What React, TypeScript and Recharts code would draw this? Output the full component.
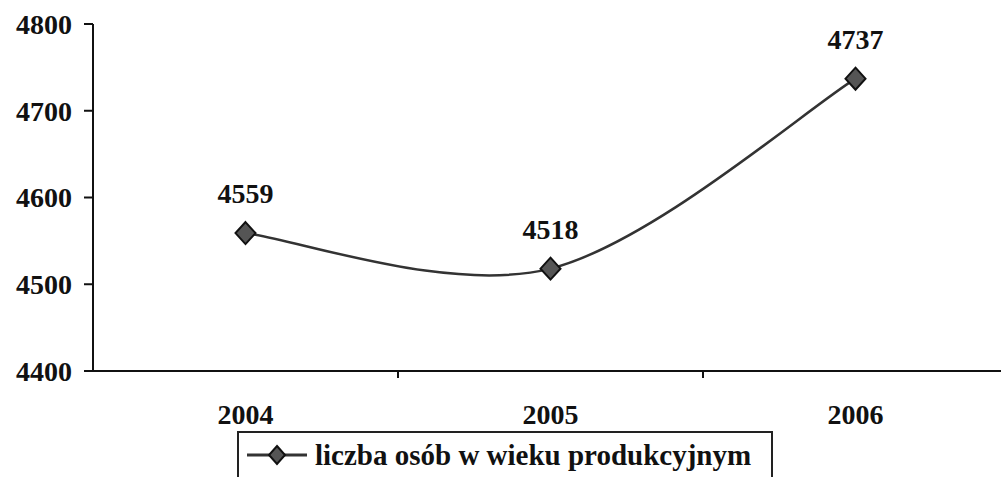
import { LineChart, Line, XAxis, YAxis, Legend, LabelList } from "recharts";

const years = ["2004", "2005", "2006"];
const persons = [4559, 4518, 4737];
const yTicks = [4400, 4500, 4600, 4700, 4800];
const seriesName = "liczba osób w wieku produkcyjnym";

const FONT = '"Liberation Serif", "Times New Roman", serif';

// categories sit in the middle of their band, like Excel's "between tick marks"
const data = years.map((year, i) => ({ x: i + 0.5, year, value: persons[i] }));
const xTicks = [0, 0.5, 1, 1.5, 2, 2.5, 3];

// Excel-like smoothed line (Catmull-Rom as cubic beziers)
function excelSmooth(context: any) {
  let pts: [number, number][] = [];
  return {
    areaStart() {},
    areaEnd() {},
    lineStart() {
      pts = [];
    },
    point(x: number, y: number) {
      pts.push([+x, +y]);
    },
    lineEnd() {
      if (!pts.length) return;
      context.moveTo(pts[0][0], pts[0][1]);
      for (let i = 0; i < pts.length - 1; i++) {
        const p0 = pts[Math.max(i - 1, 0)];
        const p1 = pts[i];
        const p2 = pts[i + 1];
        const p3 = pts[Math.min(i + 2, pts.length - 1)];
        context.bezierCurveTo(
          p1[0] + (p2[0] - p0[0]) / 6,
          p1[1] + (p2[1] - p0[1]) / 6,
          p2[0] - (p3[0] - p1[0]) / 6,
          p2[1] - (p3[1] - p1[1]) / 6,
          p2[0],
          p2[1]
        );
      }
    },
  };
}

function Diamond({ cx, cy, size = 10 }: { cx?: number; cy?: number; size?: number }) {
  if (cx == null || cy == null) return null;
  return (
    <polygon
      points={`${cx},${cy - size - 1} ${cx + size},${cy} ${cx},${cy + size + 1} ${cx - size},${cy}`}
      fill="#555"
      stroke="#111"
      strokeWidth={2}
    />
  );
}

function XTick(props: any) {
  const { x, y, payload } = props;
  const v = payload.value as number;
  if (Number.isInteger(v)) {
    if (v === 0 || v === 3) return null;
    return <line x1={x} y1={y} x2={x} y2={y + 7} stroke="#111" strokeWidth={2} />;
  }
  const label = years[Math.floor(v)];
  return (
    <text x={x} y={y + 53} textAnchor="middle" fontFamily={FONT} fontWeight="bold" fontSize={28} fill="#111">
      {label}
    </text>
  );
}

function LegendBox() {
  return (
    <div
      style={{
        width: 536,
        height: 60,
        border: "2px solid #222",
        borderBottom: "none",
        boxSizing: "border-box",
        display: "flex",
        alignItems: "center",
        paddingLeft: 6,
        paddingBottom: 14,
        fontFamily: FONT,
        fontWeight: "bold",
        fontSize: 29,
        color: "#111",
        background: "#fff",
      }}
    >
      <svg width={64} height={26} style={{ marginRight: 6 }}>
        <line x1={2} y1={13} x2={62} y2={13} stroke="#333" strokeWidth={3} />
        <Diamond cx={32} cy={13} size={8} />
      </svg>
      <span>{seriesName}</span>
    </div>
  );
}

export default function App() {
  return (
    <div
      style={{
        position: "absolute",
        left: 0,
        top: 0,
        width: 1001,
        height: 477,
        overflow: "hidden",
        background: "#fff",
      }}
    >
      <LineChart width={1008} height={477} data={data} margin={{ top: 24, right: 0, left: 0, bottom: 46 }}>
        <XAxis
          dataKey="x"
          type="number"
          domain={[0, 3]}
          ticks={xTicks}
          interval={0}
          height={60}
          tickSize={0}
          tickMargin={0}
          tickLine={false}
          tick={<XTick />}
          axisLine={{ stroke: "#111", strokeWidth: 2 }}
        />
        <YAxis
          domain={[4400, 4800]}
          ticks={yTicks}
          width={93}
          tickSize={9}
          tickMargin={12}
          axisLine={{ stroke: "#111", strokeWidth: 2 }}
          tickLine={{ stroke: "#111", strokeWidth: 2 }}
          tick={{ fill: "#111", fontSize: 28, fontWeight: "bold", fontFamily: FONT }}
        />
        <Legend
          layout="vertical"
          verticalAlign="middle"
          align="center"
          content={() => <LegendBox />}
          wrapperStyle={{ left: 237, top: 431, width: 536, height: 60 }}
        />
        <Line
          type={excelSmooth as any}
          dataKey="value"
          name={seriesName}
          stroke="#333"
          strokeWidth={2.5}
          dot={(p: any) => <Diamond key={p.index} cx={p.cx} cy={p.cy} />}
          activeDot={false}
          isAnimationActive={false}
        >
          <LabelList
            dataKey="value"
            position="top"
            offset={30}
            style={{ fill: "#111", fontSize: 28, fontWeight: "bold", fontFamily: FONT }}
          />
        </Line>
      </LineChart>
    </div>
  );
}
